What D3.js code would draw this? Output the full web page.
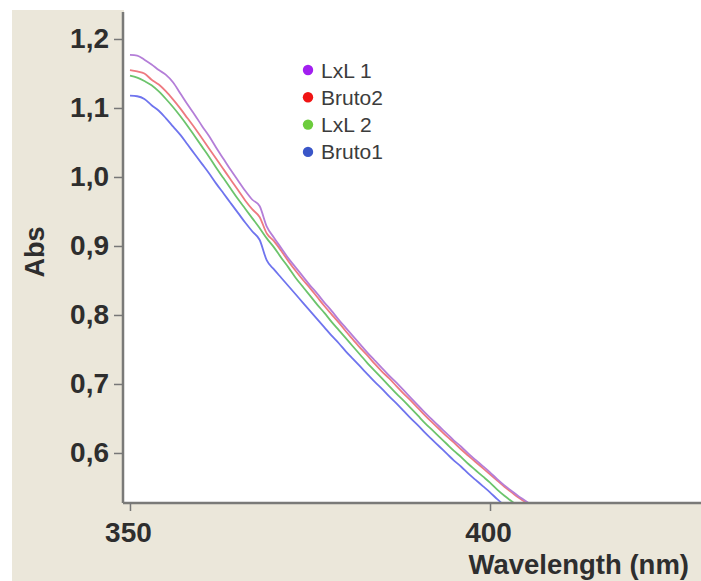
<!DOCTYPE html>
<html>
<head>
<meta charset="utf-8">
<script src="https://cdn.jsdelivr.net/npm/d3@7"></script>
<style>
  body { margin: 0; background: #fff; }
  svg { display: block; font-family: "Liberation Sans", Arial, sans-serif; }
</style>
</head>
<body>
<div class="chart"></div>
<script>
// wavelengths (nm), one reading per nm
const wavelengths = d3.range(350, 407);

// absorbance
const lxl1 = [1.177, 1.176, 1.170, 1.163, 1.155, 1.148, 1.137, 1.121, 1.105, 1.090,
  1.074, 1.059, 1.042, 1.026, 1.010, 0.995, 0.980, 0.967, 0.958, 0.928,
  0.912, 0.897, 0.882, 0.869, 0.856, 0.843, 0.831, 0.818, 0.806, 0.793,
  0.781, 0.769, 0.757, 0.745, 0.734, 0.723, 0.712, 0.702, 0.691, 0.680,
  0.669, 0.658, 0.648, 0.638, 0.628, 0.618, 0.609, 0.599, 0.590, 0.581,
  0.572, 0.562, 0.553, 0.545, 0.537, 0.530, 0.522];
const bruto2 = [1.155, 1.153, 1.150, 1.141, 1.134, 1.124, 1.112, 1.099, 1.085, 1.071,
  1.056, 1.041, 1.026, 1.011, 0.996, 0.981, 0.966, 0.953, 0.942, 0.918,
  0.907, 0.893, 0.878, 0.864, 0.851, 0.839, 0.826, 0.813, 0.801, 0.789,
  0.776, 0.764, 0.752, 0.741, 0.729, 0.718, 0.708, 0.697, 0.686, 0.676,
  0.665, 0.654, 0.644, 0.634, 0.624, 0.615, 0.605, 0.596, 0.587, 0.578,
  0.569, 0.560, 0.551, 0.543, 0.535, 0.528, 0.520];
const lxl2 = [1.147, 1.144, 1.139, 1.133, 1.124, 1.113, 1.101, 1.088, 1.074, 1.059,
  1.044, 1.029, 1.013, 0.998, 0.983, 0.968, 0.954, 0.940, 0.926, 0.911,
  0.898, 0.883, 0.869, 0.854, 0.841, 0.828, 0.815, 0.803, 0.790, 0.778,
  0.766, 0.754, 0.742, 0.730, 0.719, 0.708, 0.697, 0.686, 0.676, 0.665,
  0.654, 0.643, 0.633, 0.623, 0.613, 0.603, 0.594, 0.584, 0.575, 0.566,
  0.557, 0.547, 0.538, 0.530, 0.522, 0.515, 0.507];
const bruto1 = [1.118, 1.117, 1.113, 1.104, 1.096, 1.085, 1.073, 1.061, 1.047, 1.033,
  1.019, 1.005, 0.990, 0.976, 0.962, 0.948, 0.934, 0.921, 0.909, 0.879,
  0.866, 0.854, 0.842, 0.830, 0.818, 0.806, 0.794, 0.782, 0.770, 0.759,
  0.747, 0.736, 0.725, 0.714, 0.703, 0.693, 0.682, 0.672, 0.661, 0.650,
  0.640, 0.629, 0.619, 0.609, 0.599, 0.589, 0.580, 0.570, 0.561, 0.552,
  0.543, 0.533, 0.524, 0.516, 0.508, 0.500, 0.493];

const seriesNames = ["LxL 1", "Bruto2", "LxL 2", "Bruto1"];
const seriesValues = [lxl1, bruto2, lxl2, bruto1];
const lineColors = ["#b47ed8", "#ee7a80", "#6cc46c", "#6f74ee"];
const dotColors = ["#a21ff0", "#f01414", "#6ccc3c", "#3a56c8"];

const xTicks = [350, 400];
const yTicks = [0.6, 0.7, 0.8, 0.9, 1.0, 1.1, 1.2];

const W = 701, H = 581;
const plot = { left: 124, right: 701, top: 10, bottom: 503 };

const svg = d3.select(".chart")
    .append("svg")
    .attr("width", W)
    .attr("height", H);

// beige frame and white plot area
svg.append("rect")
    .attr("x", 12).attr("y", 10)
    .attr("width", W - 12).attr("height", H - 10)
    .attr("fill", "#ebe7da");
svg.append("rect")
    .attr("x", plot.left).attr("y", plot.top)
    .attr("width", plot.right - plot.left).attr("height", plot.bottom - plot.top)
    .attr("fill", "#fff");

const x = d3.scaleLinear()
    .domain([349.17, 429.3])
    .range([plot.left, plot.right]);
const y = d3.scaleLinear()
    .domain([0.5275, 1.242])
    .range([plot.bottom, plot.top]);

svg.append("clipPath")
    .attr("id", "clip")
    .append("rect")
    .attr("x", plot.left).attr("y", plot.top)
    .attr("width", plot.right - plot.left).attr("height", plot.bottom - plot.top);

const line = d3.line()
    .x((d, i) => x(wavelengths[i]))
    .y(d => y(d))
    .curve(d3.curveMonotoneX);

svg.append("g")
    .attr("clip-path", "url(#clip)")
    .selectAll("path")
    .data(seriesValues.slice().reverse())
    .join("path")
    .attr("fill", "none")
    .attr("stroke", (d, i) => lineColors[3 - i])
    .attr("stroke-width", 1.8)
    .attr("stroke-linejoin", "round")
    .attr("d", line);

// axes
const yAxis = svg.append("g")
    .attr("transform", `translate(${plot.left - 1},0)`)
    .call(d3.axisLeft(y).tickValues(yTicks).tickSize(9).tickPadding(5)
        .tickFormat(d => d3.format(".1f")(d).replace(".", ",")));
const xAxis = svg.append("g")
    .attr("transform", `translate(0,${plot.bottom})`)
    .call(d3.axisBottom(x).tickValues(xTicks).tickSize(8).tickPadding(11)
        .tickFormat(d3.format("d")));

yAxis.select(".domain")
    .attr("d", `M0,${plot.top + 2}V${plot.bottom}`);
xAxis.select(".domain")
    .attr("d", `M${plot.left - 1},0H${plot.right}`);

[xAxis, yAxis].forEach(a => {
    a.select(".domain").attr("stroke", "#7a7a78").attr("stroke-width", 2.5);
    a.selectAll(".tick line").attr("stroke", "#777").attr("stroke-width", 1.5);
    a.selectAll(".tick text")
        .attr("fill", "#2e2e2e")
        .attr("font-size", 28)
        .attr("font-weight", "bold")
        .attr("font-family", "'Liberation Sans', Arial, sans-serif");
});
xAxis.selectAll(".tick text").attr("dx", -2);

// axis titles
svg.append("text")
    .attr("x", 689).attr("y", 574)
    .attr("text-anchor", "end")
    .attr("font-size", 27.5)
    .attr("font-weight", "bold")
    .attr("fill", "#2e2e2e")
    .text("Wavelength (nm)");
svg.append("text")
    .attr("transform", "translate(44,252) rotate(-90)")
    .attr("text-anchor", "middle")
    .attr("font-size", 27)
    .attr("font-weight", "bold")
    .attr("fill", "#2e2e2e")
    .text("Abs");

// legend
const legend = svg.append("g")
    .attr("transform", "translate(308,70)");
const items = legend.selectAll("g")
    .data(seriesNames)
    .join("g")
    .attr("transform", (d, i) => `translate(0,${i * 27.3})`);
items.append("circle")
    .attr("r", 5.2)
    .attr("fill", (d, i) => dotColors[i]);
items.append("text")
    .attr("x", 13).attr("y", 7.5)
    .attr("font-size", 21)
    .attr("fill", "#3c3c3c")
    .text(d => d);
</script>
</body>
</html>
